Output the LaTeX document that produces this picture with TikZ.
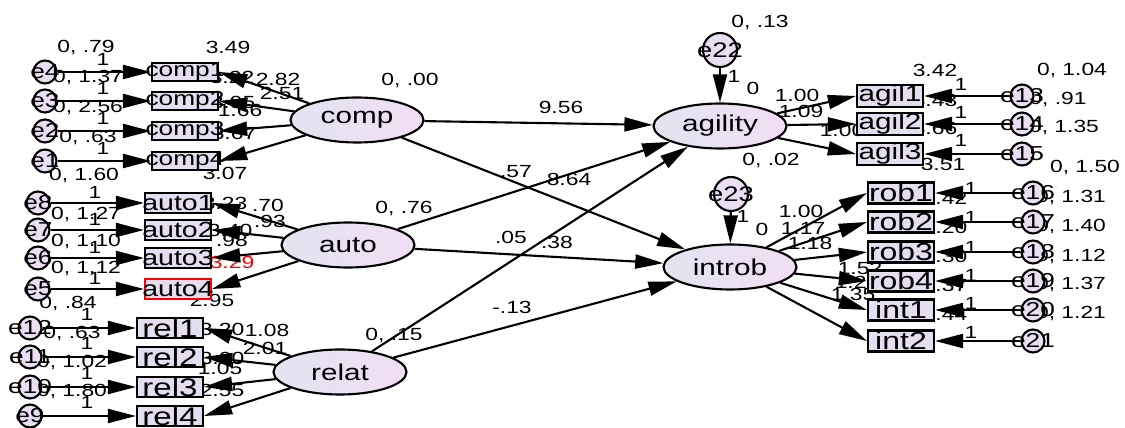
\documentclass[tikz,border=0pt]{standalone}
\usepackage{fontspec}
\setmainfont{Liberation Sans}[FakeStretch=1.3]
\usepackage{tikz}
\usetikzlibrary{arrows.meta,positioning,calc,shapes.geometric}

\definecolor{boxfill}{RGB}{228,222,240}
\definecolor{latleft}{RGB}{226,228,240}
\definecolor{latright}{RGB}{242,222,244}
\definecolor{errfill}{RGB}{234,222,242}

\tikzset{
  obs/.style={draw,line width=1.2pt,minimum width=1.32cm,minimum height=0.4cm,inner sep=0pt,fill=boxfill,font=\fontsize{#1}{#1}\selectfont},
  obs/.default=12,
  lat/.style={draw,line width=1.2pt,ellipse,minimum width=2.66cm,minimum height=0.9cm,inner sep=0pt,left color=latleft,right color=latright,font=\fontsize{13}{15}\selectfont},
  err/.style={draw,line width=1.2pt,circle,minimum size=0.46cm,inner sep=0pt,fill=errfill,font=\fontsize{11.5}{12}\selectfont},
  dist/.style={err,minimum size=0.68cm,font=\fontsize{12}{13}\selectfont},
  est/.style={inner sep=0pt,font=\fontsize{10}{11}\selectfont},
  reg/.style={line width=1.2pt,-{Triangle[length=16pt,width=8pt]}},
}

\begin{document}
\begin{tikzpicture}[x=0.02cm,y=-0.02cm]
  \useasboundingbox (0,0) rectangle (1125,428);

  % estimates first, the boxes are drawn over them
  \foreach \x/\y/\t [count=\i] in {86/47/{0, .79},88/77/{0, 1.37},88/107/{0, 2.56},88/137/{0, .63},84/175/{0, 1.60},86/214/{0, 1.27},86/241/{0, 1.10},86/268/{0, 1.12},68/303/{0, .84},72/333/{0, .63},72/362/{0, 1.02},72/391/{0, 1.80}}
    \node[est] (lv\i) at (\x,\y) {\t};
  \foreach \x/\y/\t [count=\i] in {228/47/3.49,232/77/3.22,278/79/2.82,282/93/2.51,233/102/3.95,240/110/1.66,234/133/3.67,225/173/3.07,225/203/3.23,268/205/.70,270/221/.93,230/230/3.40,232/240/.98,212/300/2.95,222/329/3.20,267/330/1.08,265/348/2.01,222/358/3.00,220/368/1.05,222/390/2.55}
    \node[est] (li\i) at (\x,\y) {\t};
  \node[est,text=red] (lred) at (232,262) {3.29};
  \foreach \x/\y [count=\i] in {103/59,103/88,103/118,103/148,95/192,95/219,95/247,95/278,87/314,87/343,87/373,87/402}
    \node[est] (lf\i) at (\x,\y) {1};
  \foreach \x/\y/\t [count=\i] in {410/80/{0, .00},561/107/9.56,516/172/.57,569/179/8.64,404/208/{0, .76},511/237/.05,557/242/.38,512/307/-.13,394/335/{0, .15}}
    \node[est] (ls\i) at (\x,\y) {\t};
  \foreach \x/\y/\t [count=\i] in {760/22/{0, .13},734/76/1,753/88/0,797/95/1.00,801/111/1.09,842/130/1.00,771/160/{0, .02},935/70/3.42,935/100/3.43,935/128/3.66,943/164/3.51,1072/70/{0, 1.04},1058/99/{0, .91},1064/127/{0, 1.35},1085/167/{0, 1.50},762/229/0,743/216/1,801/211/1.00,803/228/1.17,810/243/1.18,860/268/1.52,857/282/1.27,853/294/1.35,945/198/3.42,945/227/3.20,945/256/3.30,945/285/3.37,945/314/3.44,1071/197/{0, 1.31},1071/226/{0, 1.40},1071/256/{0, 1.12},1071/284/{0, 1.37},1071/313/{0, 1.21}}
    \node[est] (lr\i) at (\x,\y) {\t};
  \foreach \x/\y [count=\i] in {961/84,961/112,961/140,971/188,971/217,971/247,971/275,971/303,971/332}
    \node[est] (rf\i) at (\x,\y) {1};

  % latent variables
  \node[lat] (comp) at (357,120) {comp};
  \node[lat] (auto) at (348,245) {auto};
  \node[lat] (relat) at (340,372) {relat};
  \node[lat] (agility) at (720,126) {agility};
  \node[lat] (introb) at (730,267) {introb};
  \node[dist] (e22) at (720,50) {\makebox[0pt]{e22}};
  \node[dist] (e23) at (731,194) {\makebox[0pt]{e23}};

  % indicators
  \foreach \n/\y/\e in {1/72/4,2/101/3,3/131/2,4/161/1}{
    \node[obs=11.5,minimum height=0.37cm] (comp\n) at (185,\y) {\makebox[0pt]{comp\n}};
    \node[err] (e\e) at (45,\y) {\makebox[0pt]{e\e}};
  }
  \foreach \n/\y/\e/\col in {1/203/8/black,2/230/7/black,3/258/6/black,4/289/5/red}{
    \node[obs=12.5,draw=\col] (auto\n) at (178,\y) {\makebox[0pt]{auto\n}};
    \node[err] (e\e) at (38,\y) {\makebox[0pt]{e\e}};
  }
  \foreach \n/\y/\e in {1/328/12,2/357/11,3/387/10,4/416/9}{
    \node[obs=14.5] (rel\n) at (170,\y) {\makebox[0pt]{rel\n}};
    \node[err] (e\e) at (30,\y) {\makebox[0pt]{e\e}};
  }
  \foreach \n/\y/\e in {1/96/13,2/124/14,3/154/15}{
    \node[obs=13,minimum height=0.44cm] (agil\n) at (890,\y) {\makebox[0pt]{agil\n}};
    \node[err] (e\e) at (1022,\y) {\makebox[0pt]{e\e}};
  }
  \foreach \b/\y/\e in {rob1/193/16,rob2/222/17,rob3/252/18,rob4/281/19,int1/310/20,int2/341/21}{
    \node[obs=14,minimum height=0.42cm] (\b) at (901,\y) {\makebox[0pt]{\b}};
    \node[err] (e\e) at (1033,\y) {\makebox[0pt]{e\e}};
  }

  % measurement paths
  \foreach \n/\e in {1/4,2/3,3/2,4/1}{
    \draw[reg] (e\e) -- (comp\n);
    \draw[reg] (comp) -- (comp\n.east);
  }
  \foreach \n/\e in {1/8,2/7,3/6,4/5}{
    \draw[reg] (e\e) -- (auto\n);
    \draw[reg] (auto) -- (auto\n.east);
  }
  \foreach \n/\e in {1/12,2/11,3/10,4/9}{
    \draw[reg] (e\e) -- (rel\n);
    \draw[reg] (relat) -- (rel\n.east);
  }
  \foreach \n/\e in {1/13,2/14,3/15}{
    \draw[reg] (e\e) -- (agil\n);
    \draw[reg] (agility) -- (agil\n.west);
  }
  \foreach \b/\e in {rob1/16,rob2/17,rob3/18,rob4/19,int1/20,int2/21}{
    \draw[reg] (e\e) -- (\b);
    \draw[reg] (introb) -- (\b.west);
  }

  % structural paths
  \foreach \s in {comp,auto,relat}{
    \draw[reg] (\s) -- (agility);
    \draw[reg] (\s) -- (introb);
  }
  \draw[reg] (e22) -- (agility);
  \draw[reg] (e23) -- (introb);
\end{tikzpicture}
\end{document}
